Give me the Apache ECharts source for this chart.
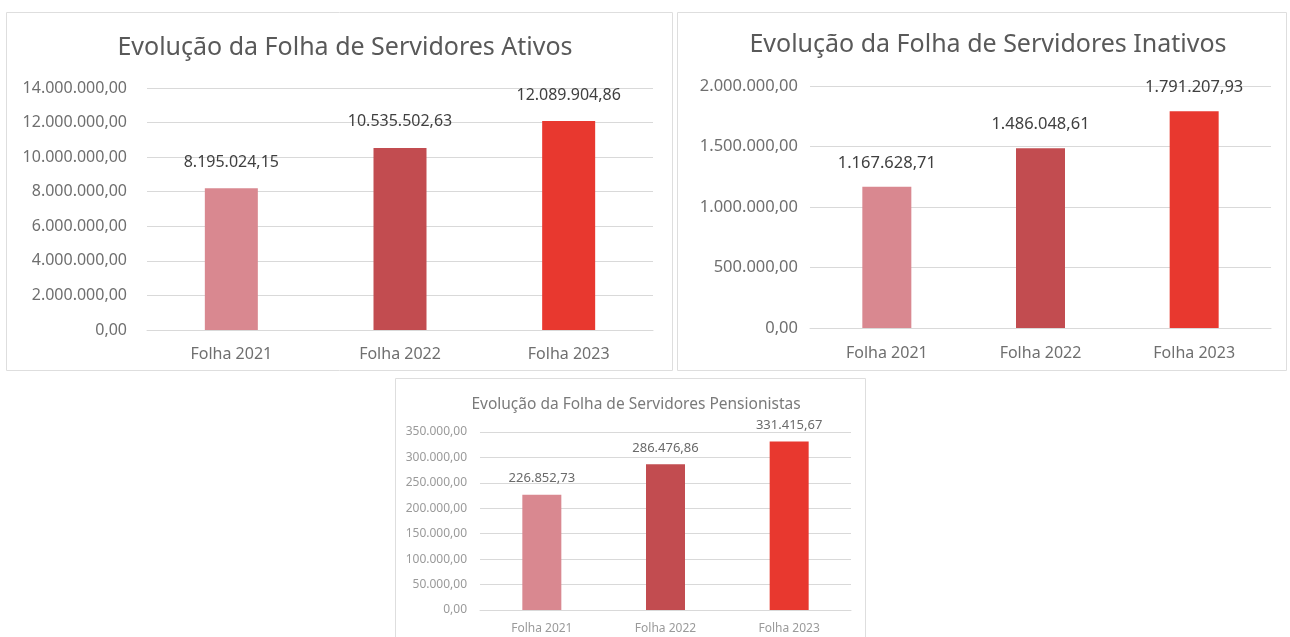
<!DOCTYPE html>
<html>
<head>
<meta charset="utf-8">
<script src="https://cdn.jsdelivr.net/npm/echarts@6/dist/echarts.min.js"></script>
<style>
    html, body { margin: 0; padding: 0; background: #ffffff; }
    #container { width: 1290px; height: 637px; }
</style>
</head>
<body>
<div id="container"></div>
<script>
// categories shared by the three charts
var categories = ['Folha 2021', 'Folha 2022', 'Folha 2023']
var bar_colors = ['#D98890', '#C24C50', '#E8382F']

// values
var ativos_values = [8195024.15, 10535502.63, 12089904.86]
var inativos_values = [1167628.71, 1486048.61, 1791207.93]
var pensionistas_values = [226852.73, 286476.86, 331415.67]

var titles = [
    'Evolução da Folha de Servidores Ativos',
    'Evolução da Folha de Servidores Inativos',
    'Evolução da Folha de Servidores Pensionistas'
]

var font = '"Noto Sans", "Open Sans", sans-serif'

// 1234567.8 -> "1.234.567,80"
function format_br(v) {
    var parts = Number(v).toFixed(2).split('.')
    var int_part = parts[0].replace(/\B(?=(\d{3})+(?!\d))/g, '.')
    return int_part + ',' + parts[1]
}

function bar_data(values) {
    return values.map(function (v, i) {
        return { value: v, itemStyle: { color: bar_colors[i] } }
    })
}

function panel(x, y, w, h) {
    return {
        type: 'rect',
        shape: { x: x, y: y, width: w, height: h },
        style: { fill: 'none', stroke: '#dedede', lineWidth: 1 },
        silent: true
    }
}

var chartDom = document.getElementById('container')
var myChart = echarts.init(chartDom)

function x_axis(grid, size, margin, color) {
    return {
        type: 'category',
        gridIndex: grid,
        data: categories,
        axisTick: { show: false },
        axisLine: { show: true, lineStyle: { color: '#d9d9d9' } },
        axisLabel: { fontFamily: font, fontSize: size, color: color, margin: margin }
    }
}

function y_axis(grid, max, interval, size, margin, color) {
    return {
        type: 'value',
        gridIndex: grid,
        min: 0,
        max: max,
        interval: interval,
        axisLine: { show: false },
        axisTick: { show: false },
        splitLine: { lineStyle: { color: '#d9d9d9' } },
        axisLabel: {
            fontFamily: font, fontSize: size, color: color, margin: margin,
            formatter: format_br
        }
    }
}

function bar_series(idx, values, width, size, distance, color) {
    return {
        type: 'bar',
        xAxisIndex: idx,
        yAxisIndex: idx,
        data: bar_data(values),
        barWidth: width,
        label: {
            show: true,
            position: 'top',
            distance: distance,
            fontFamily: font,
            fontSize: size,
            color: color,
            formatter: function (p) { return format_br(p.value) }
        }
    }
}

let options = {
    animation: false,
    backgroundColor: '#ffffff',
    graphic: [
        panel(6.5, 12.5, 666, 358),
        panel(677.5, 12.5, 609, 358),
        panel(395.5, 378.5, 470, 262)
    ],
    title: [
        {
            text: titles[0], left: 340, top: 30, textAlign: 'center',
            textStyle: { fontFamily: font, fontSize: 25, fontWeight: 'normal', color: '#595959' }
        },
        {
            text: titles[1], left: 983, top: 27, textAlign: 'center',
            textStyle: { fontFamily: font, fontSize: 25, fontWeight: 'normal', color: '#595959' }
        },
        {
            text: titles[2], left: 631, top: 392, textAlign: 'center',
            textStyle: { fontFamily: font, fontSize: 15.5, fontWeight: 'normal', color: '#7a7a7a' }
        }
    ],
    grid: [
        { left: 147, right: 637, top: 88, bottom: 307 },
        { left: 810, right: 19, top: 86, bottom: 309 },
        { left: 480, right: 439, top: 432, bottom: 27 }
    ],
    xAxis: [
        x_axis(0, 16, 16, '#6f6f6f'),
        x_axis(1, 16, 17, '#6f6f6f'),
        x_axis(2, 12, 13, '#9a9a9a')
    ],
    yAxis: [
        y_axis(0, 14000000, 2000000, 16, 20, '#6f6f6f'),
        y_axis(1, 2000000, 500000, 16.5, 12, '#6f6f6f'),
        y_axis(2, 350000, 50000, 12, 13, '#9a9a9a')
    ],
    series: [
        bar_series(0, ativos_values, 53, 16, 18, '#404040'),
        bar_series(1, inativos_values, 49, 16.5, 15, '#404040'),
        bar_series(2, pensionistas_values, 39, 13, 10, '#6a6a6a')
    ]
}
myChart.setOption(options)
</script>
</body>
</html>
